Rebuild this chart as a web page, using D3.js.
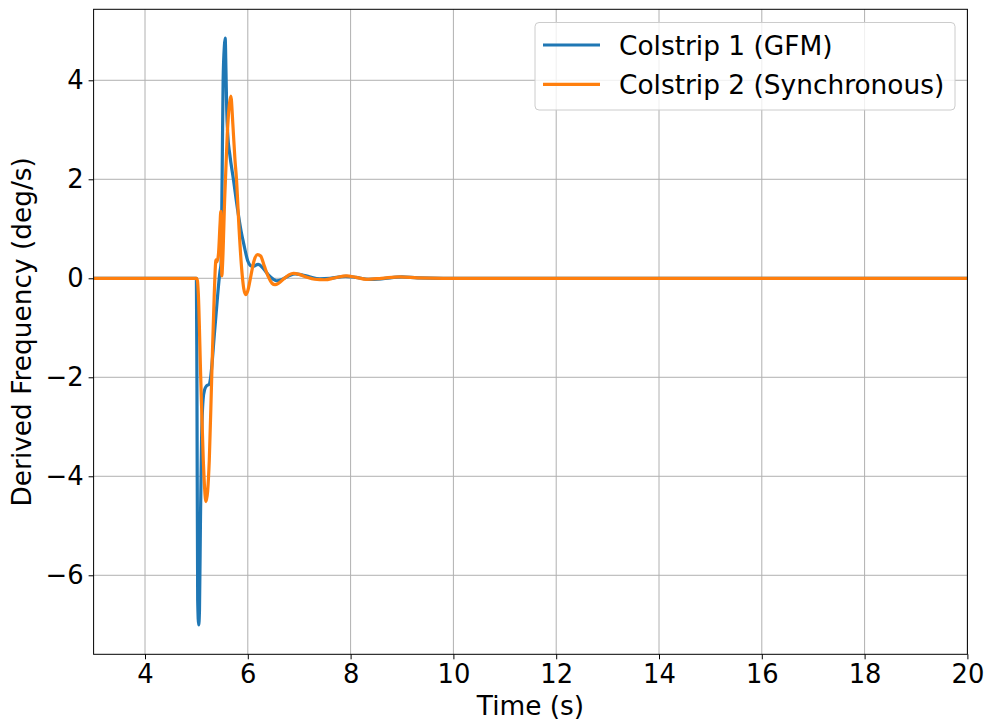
<!DOCTYPE html>
<html><head><meta charset="utf-8">
<script src="https://cdn.jsdelivr.net/npm/d3@7"></script>
<style>body{margin:0;background:#fff}svg{display:block}text{font-family:"DejaVu Sans",sans-serif;fill:#000}</style>
</head><body><svg id="c" width="989" height="723"></svg>
<script>
const seriesNames = ["Colstrip 1 (GFM)", "Colstrip 2 (Synchronous)"];
const seriesColors = ["#1f77b4", "#ff7f0e"];
const t1 = [3, 5.0, 5.01, 5.025, 5.045, 5.06, 5.08, 5.10, 5.13, 5.16, 5.20, 5.25, 5.27, 5.36, 5.46, 5.48, 5.50, 5.52, 5.545, 5.56, 5.575, 5.59, 5.61, 5.65, 5.72, 5.80, 5.87, 5.92, 6.0, 6.05, 6.1, 6.2, 6.3, 6.4, 6.5, 6.56, 6.65, 6.8, 6.92, 7.05, 7.2, 7.4, 7.6, 7.9, 8.1, 8.35, 8.6, 9.0, 9.3, 9.8, 20];
const v1 = [0, 0, -2.0, -6.5, -7.0, -6.7, -4.8, -3.3, -2.45, -2.25, -2.17, -2.14, -2.05, -1.0, 0.15, 0.3, 2.0, 4.0, 4.7, 4.85, 4.2, 3.4, 2.9, 2.5, 2.0, 1.4, 0.95, 0.7, 0.35, 0.26, 0.24, 0.28, 0.2, 0.07, -0.02, -0.05, -0.03, 0.05, 0.09, 0.07, 0.03, -0.01, 0.0, 0.04, 0.02, -0.02, -0.01, 0.03, 0.01, 0.0, 0];
const t2 = [3, 5.0, 5.02, 5.037, 5.084, 5.134, 5.187, 5.251, 5.298, 5.348, 5.381, 5.40, 5.43, 5.46, 5.475, 5.485, 5.495, 5.51, 5.55, 5.60, 5.64, 5.67, 5.71, 5.75, 5.78, 5.83, 5.88, 5.92, 5.96, 6.0, 6.06, 6.12, 6.19, 6.25, 6.32, 6.4, 6.47, 6.53, 6.6, 6.7, 6.8, 6.89, 7.0, 7.15, 7.3, 7.5, 7.7, 7.92, 8.1, 8.31, 8.6, 8.96, 9.3, 9.8, 20];
const v2 = [0, 0, -0.05, -0.3, -2.0, -3.67, -4.51, -3.67, -2.0, -0.3, 0.37, 0.33, 0.5, 1.1, 1.35, 0.6, 0.05, 0.3, 1.6, 2.9, 3.5, 3.68, 3.1, 2.4, 2.0, 1.0, 0.2, -0.2, -0.33, -0.25, 0.05, 0.35, 0.48, 0.45, 0.25, 0.03, -0.1, -0.13, -0.1, -0.01, 0.07, 0.10, 0.08, 0.02, -0.02, -0.03, 0.01, 0.05, 0.02, -0.02, 0.0, 0.03, 0.01, 0, 0];
const xTicks = [4, 6, 8, 10, 12, 14, 16, 18, 20];
const yTicks = [-6, -4, -2, 0, 2, 4];
const xLabel = "Time (s)";
const yLabel = "Derived Frequency (deg/s)";

const svg = d3.select("#c");
const L = 93.6, R = 967.4, T = 9.3, B = 654.3;
const x = d3.scaleLinear().domain([3, 20]).range([L, R]);
const y = d3.scaleLinear().domain([-7.596, 5.434]).range([B, T]);
const fs = 25.8, fl = 26.4;

const g = svg.append("g");
g.selectAll(".gx").data(xTicks).enter().append("line")
  .attr("x1", d => x(d)).attr("x2", d => x(d)).attr("y1", T).attr("y2", B)
  .attr("stroke", "#b0b0b0").attr("stroke-width", 1);
g.selectAll(".gy").data(yTicks).enter().append("line")
  .attr("y1", d => y(d)).attr("y2", d => y(d)).attr("x1", L).attr("x2", R)
  .attr("stroke", "#b0b0b0").attr("stroke-width", 1);

const fmt = d => d < 0 ? "\u2212" + Math.abs(d) : String(d);
const line = d3.line().x(d => x(d[0])).y(d => y(d[1])).curve(d3.curveMonotoneX);
const data = [d3.zip(t1, v1), d3.zip(t2, v2)];
svg.append("clipPath").attr("id", "cp").append("rect")
  .attr("x", L).attr("y", T).attr("width", R - L).attr("height", B - T);
data.forEach((d, i) => {
  svg.append("path").datum(d).attr("d", line).attr("fill", "none")
    .attr("stroke", seriesColors[i]).attr("stroke-width", 3.2)
    .attr("stroke-linejoin", "round").attr("stroke-linecap", "butt")
    .attr("clip-path", "url(#cp)");
});

const xa = svg.append("g").attr("transform", `translate(0,${B})`)
  .call(d3.axisBottom(x).tickValues(xTicks).tickFormat(fmt).tickSize(5).tickPadding(5));
const ya = svg.append("g").attr("transform", `translate(${L},0)`)
  .call(d3.axisLeft(y).tickValues(yTicks).tickFormat(fmt).tickSize(5).tickPadding(5));
[xa, ya].forEach(a => {
  a.select(".domain").remove();
  a.selectAll("line").attr("stroke", "#000").attr("stroke-width", 1);
  a.selectAll("text").attr("font-size", fs).attr("font-family", "DejaVu Sans");
});
svg.append("rect").attr("x", L).attr("y", T).attr("width", R - L).attr("height", B - T)
  .attr("fill", "none").attr("stroke", "#000").attr("stroke-width", 1);

svg.append("text").attr("x", (L + R) / 2).attr("y", 715).attr("text-anchor", "middle")
  .attr("font-size", fl).text(xLabel);
svg.append("text").attr("transform", `translate(31,${(T + B) / 2}) rotate(-90)`)
  .attr("text-anchor", "middle").attr("font-size", fl).text(yLabel);

const lg = svg.append("g");
lg.append("rect").attr("x", 535).attr("y", 22.5).attr("width", 420).attr("height", 87.5)
  .attr("rx", 4).attr("fill", "#fff").attr("fill-opacity", 0.8)
  .attr("stroke", "#cccccc").attr("stroke-width", 1);
seriesNames.forEach((n, i) => {
  const yy = 45 + i * 39.3;
  lg.append("line").attr("x1", 543).attr("x2", 600).attr("y1", yy).attr("y2", yy)
    .attr("stroke", seriesColors[i]).attr("stroke-width", 3.2);
  lg.append("text").attr("x", 619).attr("y", yy + 9.5).attr("font-size", fl).text(n);
});
</script></body></html>
